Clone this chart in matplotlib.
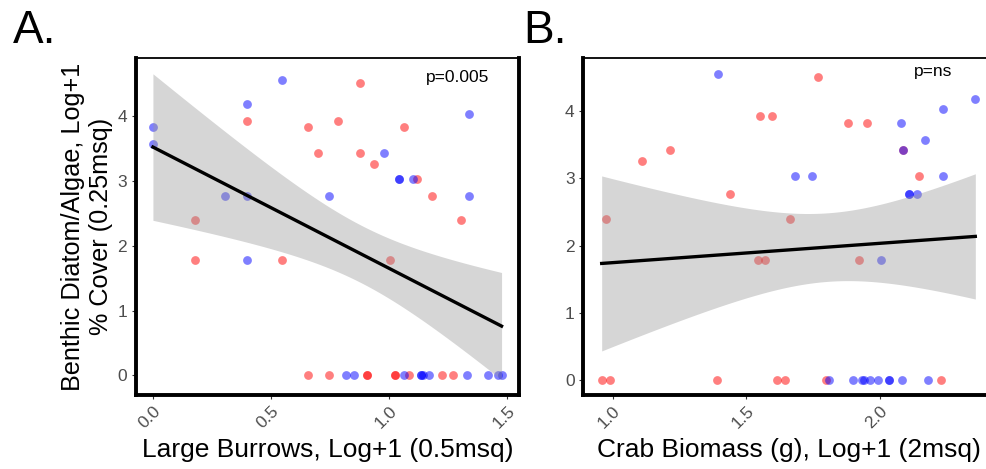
import numpy as np
import matplotlib
matplotlib.use("Agg")
import matplotlib.pyplot as plt

plt.rcParams['font.family'] = ['Liberation Sans', 'DejaVu Sans']

# Panel A: large burrows vs diatom/algae cover
a_red_x = [0.878, 0.40, 0.657, 0.782, 1.065, 0.70, 0.878, 0.934, 1.117, 1.18,
           0.178, 1.304, 0.178, 0.547, 1.004,
           0.657, 0.744, 0.906, 0.906, 1.025, 1.025, 1.086, 1.222, 1.271]
a_red_y = [4.51, 3.93, 3.83, 3.93, 3.83, 3.43, 3.43, 3.26, 3.04, 2.77,
           2.40, 2.40, 1.79, 1.79, 1.79,
           0, 0, 0, 0, 0, 0, 0, 0, 0]
a_blue_x = [0.0, 0.0, 0.547, 0.40, 1.337, 0.98, 1.04, 1.04, 1.10, 1.337,
            0.305, 0.40, 0.744, 0.40,
            0.817, 0.85, 1.065, 1.135, 1.135, 1.145, 1.169, 1.328, 1.419, 1.459, 1.476]
a_blue_y = [3.83, 3.58, 4.56, 4.19, 4.03, 3.43, 3.04, 3.04, 3.04, 2.77,
            2.77, 2.77, 2.77, 1.79,
            0, 0, 0, 0, 0, 0, 0, 0, 0, 0, 0]

# Panel B: crab biomass vs diatom/algae cover
b_red_x = [1.768, 1.553, 1.595, 1.882, 1.952, 1.109, 1.215, 2.087, 2.147, 1.441,
           0.975, 1.663, 1.544, 1.571, 1.922,
           0.959, 0.989, 1.391, 1.617, 1.646, 1.80, 2.231]
b_red_y = [4.51, 3.93, 3.93, 3.83, 3.83, 3.26, 3.43, 3.43, 3.04, 2.77,
           2.40, 2.40, 1.79, 1.79, 1.79,
           0, 0, 0, 0, 0, 0, 0]
b_blue_x = [1.395, 2.358, 2.236, 2.078, 2.168, 2.087, 1.683, 1.748, 2.236, 2.109,
            2.109, 2.14, 2.005,
            1.81, 1.90, 1.935, 1.94, 1.963, 1.994, 2.034, 2.034, 2.085, 2.181]
b_blue_y = [4.56, 4.19, 4.03, 3.83, 3.58, 3.43, 3.04, 3.04, 3.04, 2.77,
            2.77, 2.77, 1.79,
            0, 0, 0, 0, 0, 0, 0, 0, 0, 0]

a_xticks = [0.0, 0.5, 1.0, 1.5]
b_xticks = [1.0, 1.5, 2.0]
yticks = [0, 1, 2, 3, 4]


def lm_band(x, y):
    # ordinary least squares with 95% t-interval (like geom_smooth(method='lm'))
    x = np.asarray(x, float)
    y = np.asarray(y, float)
    n = len(x)
    b1, b0 = np.polyfit(x, y, 1)
    resid = y - (b0 + b1 * x)
    s = np.sqrt(np.sum(resid ** 2) / (n - 2))
    df = n - 2
    z = 1.959964
    t = z + (z ** 3 + z) / (4 * df) + (5 * z ** 5 + 16 * z ** 3 + 3 * z) / (96 * df ** 2)
    xs = np.linspace(x.min(), x.max(), 80)
    fit = b0 + b1 * xs
    se = s * np.sqrt(1 / n + (xs - x.mean()) ** 2 / np.sum((x - x.mean()) ** 2))
    return xs, fit, fit - t * se, fit + t * se


def panel(ax, rx, ry, bx, by, xticks, ptext, px, ylabel=None, xlabel=""):
    ax.scatter(rx, ry, s=40, color='#FF0000', alpha=0.5, linewidths=0, zorder=2)
    ax.scatter(bx, by, s=40, color='#0000FF', alpha=0.5, linewidths=0, zorder=2)
    allx = np.array(rx + bx)
    ally = np.array(ry + by)
    xs, fit, lo, hi = lm_band(allx, ally)
    ax.fill_between(xs, lo, hi, color='#999999', alpha=0.4, linewidth=0, zorder=3)
    ax.plot(xs, fit, color='black', lw=2.4, zorder=4)

    # ggplot-style 5% expansion
    x0, x1 = allx.min(), allx.max()
    y0, y1 = min(ally.min(), lo.min()), max(ally.max(), hi.max())
    ax.set_xlim(x0 - 0.05 * (x1 - x0), x1 + 0.05 * (x1 - x0))
    ax.set_ylim(y0 - 0.05 * (y1 - y0), y1 + 0.05 * (y1 - y0))

    ax.text(px, 4.6, ptext, ha='center', va='center', fontsize=12.5, color='black')

    ax.set_xticks(xticks)
    ax.set_xticklabels([f"{v:.1f}" for v in xticks], rotation=45, ha='right',
                       va='top', rotation_mode='anchor')
    ax.set_yticks(yticks)
    ax.tick_params(direction='out', length=3, width=0.8, color='#333333',
                   labelcolor='#4D4D4D', labelsize=12.5, pad=3)
    for side in ['left', 'bottom', 'right']:
        ax.spines[side].set_linewidth(2.8)
    ax.spines['top'].set_linewidth(1.3)
    ax.set_xlabel(xlabel, fontsize=19, labelpad=5)
    if ylabel:
        ax.set_ylabel(ylabel, fontsize=18.2, labelpad=3, linespacing=1.2)


fig = plt.figure(figsize=(9.86, 4.69), dpi=100)
ax_a = fig.add_axes([135.5 / 986, 74 / 469, (519 - 135.5) / 986, (395 - 58.5) / 469])
ax_b = fig.add_axes([583 / 986, 74 / 469, (994 - 583) / 986, (395 - 58.5) / 469])

panel(ax_a, a_red_x, a_red_y, a_blue_x, a_blue_y, a_xticks, "p=0.005", 1.29,
      ylabel="Benthic Diatom/Algae, Log+1\n% Cover (0.25msq)",
      xlabel="Large Burrows, Log+1 (0.5msq)")
panel(ax_b, b_red_x, b_red_y, b_blue_x, b_blue_y, b_xticks, "p=ns", 2.20,
      xlabel="Crab Biomass (g), Log+1 (2msq)")

fig.text(13 / 986, 1 - 43 / 469, "A.", fontsize=33, ha='left', va='baseline')
fig.text(523 / 986, 1 - 43 / 469, "B.", fontsize=33, ha='left', va='baseline')

fig.savefig("out.png", dpi=100)
